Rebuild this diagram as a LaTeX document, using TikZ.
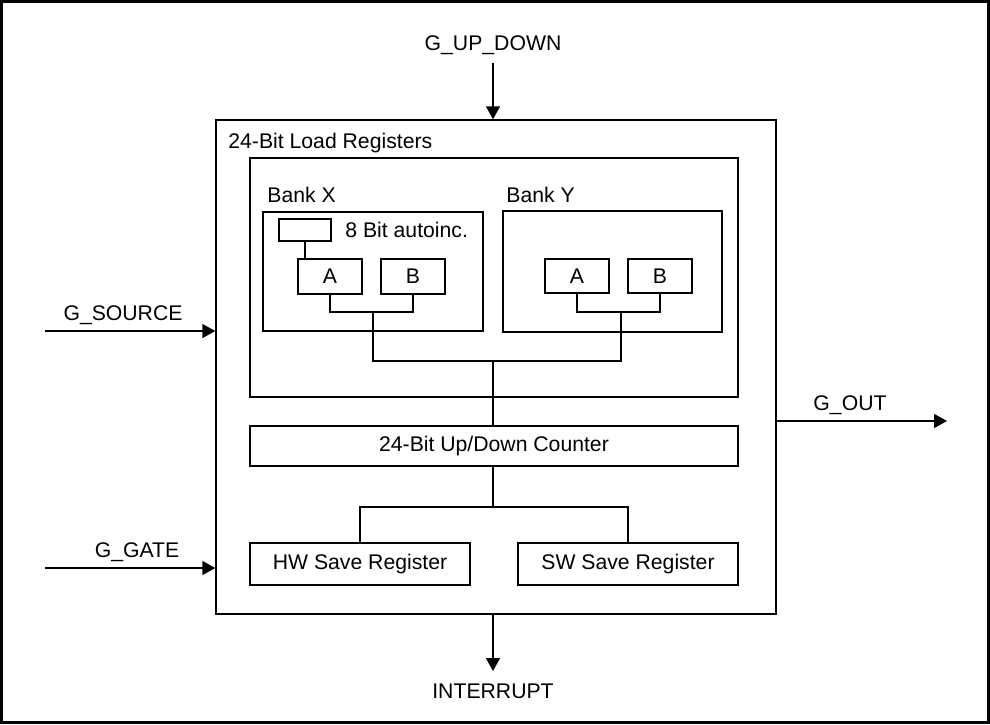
\documentclass[tikz,border=0pt]{standalone}
\usepackage{fontspec}
\setmainfont{Liberation Sans}
\usetikzlibrary{arrows.meta}
\begin{document}
\begin{tikzpicture}[x=0.5pt,y=-0.5pt,
  every node/.style={font=\fontsize{10.6pt}{12pt}\selectfont},
  box/.style={draw, line width=0.75pt, inner sep=0pt},
  wire/.style={line width=0.75pt},
  sig/.style={line width=0.75pt, -{Triangle[length=6.5pt,width=7pt]}},
  lbl/.style={inner sep=0pt}]
\useasboundingbox (0,0) rectangle (990,724);
\draw[line width=1.5pt] (1.5,1.5) rectangle (988.5,722.5);
% boxes
\node[box, minimum width=280pt, minimum height=247pt] (main) at (496,367) {};
\node[lbl, anchor=base west] (mainlbl) at (228,148) {24-Bit Load Registers};
\node[box, minimum width=244pt, minimum height=119.5pt] (load) at (494,277.5) {};
\node[lbl, anchor=base west] (bxlbl) at (267,202) {Bank X};
\node[box, minimum width=110pt, minimum height=59.5pt] (bankx) at (373,271.5) {};
\node[box, minimum width=26pt, minimum height=11pt] (auto) at (305,230) {};
\node[lbl, anchor=base west] (autolbl) at (345,237) {8 Bit autoinc.};
\node[box, minimum width=32pt, minimum height=17.5pt] (xa) at (330,276.5) {A};
\node[box, minimum width=32pt, minimum height=17.5pt] (xb) at (413,276.5) {B};
\node[lbl, anchor=base west] (bylbl) at (506,202) {Bank Y};
\node[box, minimum width=109.5pt, minimum height=60.5pt] (banky) at (612.5,271.5) {};
\node[box, minimum width=32pt, minimum height=17pt] (ya) at (577,276) {A};
\node[box, minimum width=32pt, minimum height=17pt] (yb) at (660,276) {B};
\node[box, minimum width=244pt, minimum height=20pt] (counter) at (494,446) {24-Bit Up/Down Counter};
\node[box, minimum width=110pt, minimum height=21pt] (hw) at (360,564) {HW Save Register};
\node[box, minimum width=110pt, minimum height=21pt] (sw) at (628,564) {SW Save Register};
% internal wiring
\coordinate (jx) at (373,312);
\coordinate (jy) at (621,312);
\coordinate (jm) at (493,361);
\coordinate (jc) at (493,507);
\draw[wire] (auto.south) -- (auto.south |- xa.north);
\draw[wire] (xa.south) |- (jx) -| (xb.south);
\draw[wire] (ya.south) |- (jy) -| (yb.south);
\draw[wire] (jx) |- (jm) -| (jy);
\draw[wire] (jm) -- (jm |- counter.north);
\draw[wire] (jc |- counter.south) -- (jc);
\draw[wire] (hw.north) |- (jc) -| (sw.north);
% signals
\node[lbl, anchor=base] (updown) at (493,50) {G\_UP\_DOWN};
\coordinate (udstart) at (493,63);
\draw[sig] (udstart) -- (udstart |- main.north);
\node[lbl, anchor=base] (source) at (123,320) {G\_SOURCE};
\coordinate (srcstart) at (45,331);
\draw[sig] (srcstart) -- (srcstart -| main.west);
\node[lbl, anchor=base] (gate) at (137,557) {G\_GATE};
\coordinate (gatestart) at (45,568);
\draw[sig] (gatestart) -- (gatestart -| main.west);
\node[lbl, anchor=base] (out) at (850,410) {G\_OUT};
\coordinate (outend) at (947,421);
\draw[sig] (outend -| main.east) -- (outend);
\coordinate (intend) at (493,671);
\draw[sig] (intend |- main.south) -- (intend);
\node[lbl, anchor=base] (interrupt) at (493,698) {INTERRUPT};
\end{tikzpicture}
\end{document}
